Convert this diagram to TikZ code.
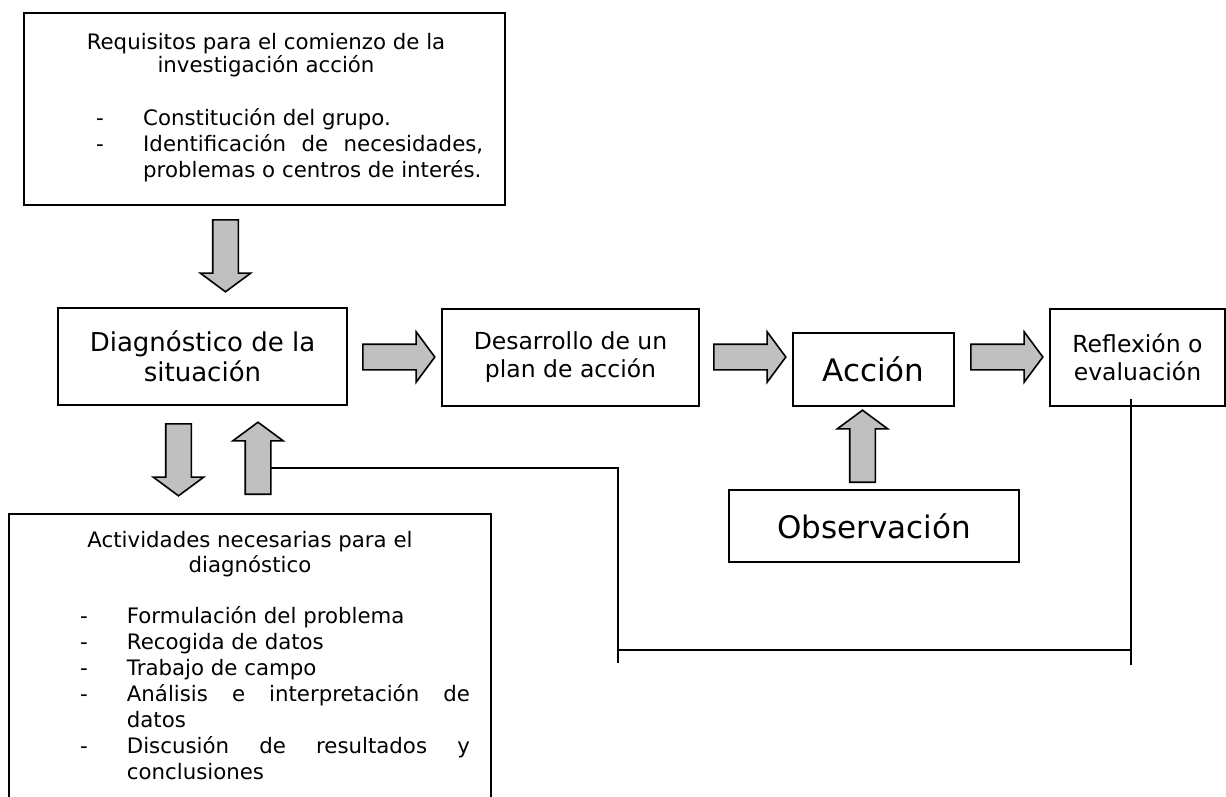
\documentclass[tikz,border=0pt]{standalone}
\usepackage{fontspec}
\setmainfont{DejaVu Sans}
\usetikzlibrary{shapes.arrows}
\definecolor{arrowgray}{RGB}{192,192,192}
\newcommand{\smalltxt}{\fontsize{21.3}{23}\selectfont}
\newcommand{\midtxt}{\fontsize{23.5}{28}\selectfont}
\newcommand{\diagtxt}{\fontsize{26}{30}\selectfont}
\newcommand{\bigtxt}{\fontsize{31}{36}\selectfont}
\tikzset{
  box/.style={draw, line width=1.7pt, inner sep=0pt, align=center},
  blockarrow/.style={single arrow, draw, line width=1.6pt, fill=arrowgray,
    inner xsep=0pt, inner ysep=12pt, minimum height=72pt,
    single arrow head extend=12.5pt, single arrow tip angle=107, anchor=tail},
  vblockarrow/.style={blockarrow, inner xsep=12pt, inner ysep=0pt},
  txt/.style={anchor=base, inner sep=0pt, font=\smalltxt},
  item/.style={txt, anchor=base west},
  feedback/.style={draw, line width=1.5pt},
}
\begin{document}
\begin{tikzpicture}[x=1pt, y=-1pt]
\useasboundingbox (0,0) rectangle (1226,797);
% boxes
\node[box, minimum width=481pt, minimum height=192pt] (req) at (264.5,109) {};
\node[box, minimum width=289pt, minimum height=97pt, font=\diagtxt] (diag) at (202.5,356.5) {Diagnóstico de la\\situación};
\node[box, minimum width=257pt, minimum height=97pt, font=\midtxt] (plan) at (570.5,357.5) {Desarrollo de un\\plan de acción};
\node[box, minimum width=161pt, minimum height=73pt, font=\bigtxt] (accion) at (873.5,369.5) {Acción};
\node[box, minimum width=175pt, minimum height=97pt, font=\midtxt] (refl) at (1137.5,357.5) {Reflexión o\\evaluación};
\node[box, minimum width=290pt, minimum height=72pt, font=\bigtxt] (obs) at (874,526) {Observación};
\node[box, minimum width=482pt, minimum height=296pt] (act) at (250,662) {};

% text of the two large boxes
\node[txt] (reqt1) at (266,50) {Requisitos para el comienzo de la};
\node[txt] (reqt2) at (266,73) {investigación acción};
\foreach \n/\yy in {1/126,2/152}
  \node[item] (reqd\n) at (96,\yy) {-};
\node[item] (reqi1) at (143,126) {Constitución del grupo.};
\node[item] (reqi2) at (143,152) {\makebox[340pt][s]{Identificación de necesidades,}};
\node[item] (reqi3) at (143,177) {problemas o centros de interés.};

\node[txt] (actt1) at (250,547) {Actividades necesarias para el};
\node[txt] (actt2) at (250,572) {diagnóstico};
\foreach \n/\yy in {1/623,2/649,3/675,4/701,5/753}
  \node[item] (actd\n) at (80,\yy) {-};
\node[item] (acti1) at (126.7,623) {Formulación del problema};
\node[item] (acti2) at (126.7,649) {Recogida de datos};
\node[item] (acti3) at (126.7,675) {Trabajo de campo};
\node[item] (acti4) at (126.7,701) {\makebox[343pt][s]{Análisis e interpretación de}};
\node[item] (acti5) at (126.7,727) {datos};
\node[item] (acti6) at (126.7,753) {\makebox[343pt][s]{Discusión de resultados y}};
\node[item] (acti7) at (126.7,779) {conclusiones};

% feedback line
\coordinate (fb0) at (270,468);
\coordinate (fb1) at (618,468);
\coordinate (fb2) at (618,663);
\coordinate (fb3) at (618,650);
\coordinate (fb4) at (1131,650);
\coordinate (fb5) at (1131,665);
\coordinate (fb6) at (1131,399);
\draw[feedback] (fb0) -- (fb1) -- (fb2);
\draw[feedback] (fb3) -- (fb4);
\draw[feedback] (fb5) -- (fb6);

% block arrows
\node[vblockarrow, shape border rotate=270] (a1) at (225.5,219) {};
\node[blockarrow] (a2) at (362,357) {};
\node[blockarrow] (a3) at (713,357) {};
\node[blockarrow] (a4) at (970,357) {};
\node[vblockarrow, shape border rotate=270] (a5) at (178.5,423) {};
\node[vblockarrow, shape border rotate=90] (ret) at (258,495) {};
\node[vblockarrow, shape border rotate=90] (obsup) at (862.5,483) {};
\end{tikzpicture}
\end{document}
